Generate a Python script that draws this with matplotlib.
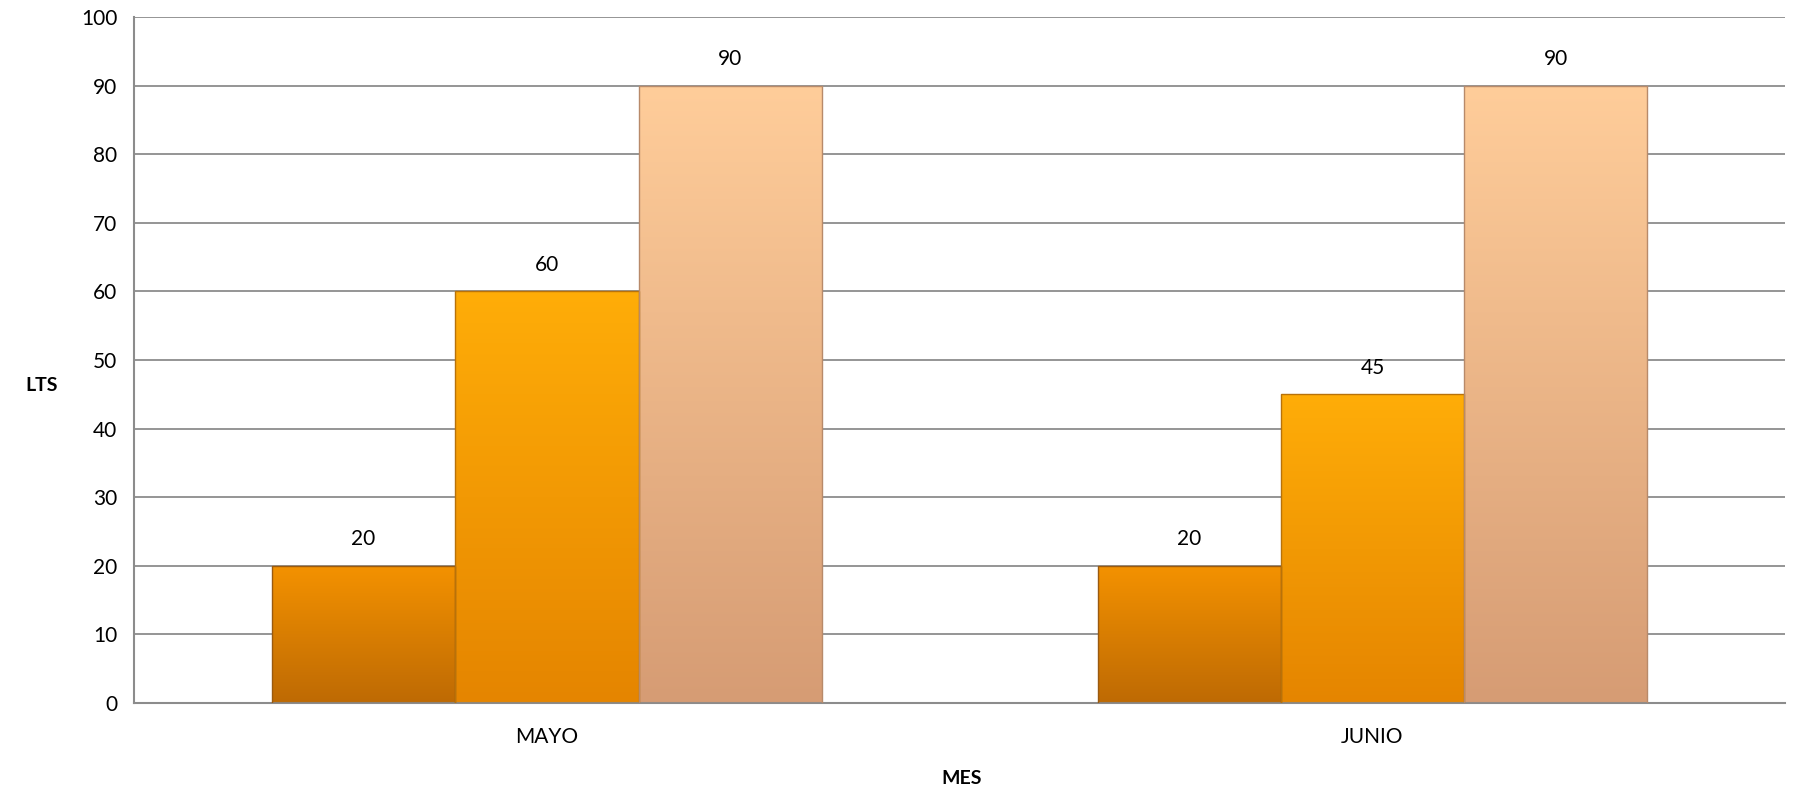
import matplotlib.pyplot as plt
import numpy as np
from matplotlib.colors import LinearSegmentedColormap

plt.rcParams['font.family'] = ['Lato', 'DejaVu Sans']

meses = ["MAYO", "JUNIO"]
serie_1 = [20, 20]
serie_2 = [60, 45]
serie_3 = [90, 90]
yticks = [0, 10, 20, 30, 40, 50, 60, 70, 80, 90, 100]

# top / bottom colours of each series gradient
grad_colors = [("#F49200", "#BE6A04"), ("#FFAD08", "#E58500"), ("#FFCD9A", "#D69C74")]
edge_colors = ["#9A5A10", "#B8720A", "#B88A6A"]


def main():
    fig = plt.figure(figsize=(18.07, 7.93), dpi=100)
    ax = fig.add_axes([0.0742, 0.1135, 0.9138, 0.8651])

    x = np.arange(len(meses))
    width = 0.222
    series = [serie_1, serie_2, serie_3]
    for i, vals in enumerate(series):
        offs = (i - 1) * width
        bars = ax.bar(x + offs, vals, width, color="none", edgecolor=edge_colors[i],
                      linewidth=1.0, zorder=3)
        cmap = LinearSegmentedColormap.from_list("g%d" % i, [grad_colors[i][1], grad_colors[i][0]])
        for b, v in zip(bars, vals):
            x0, w = b.get_x(), b.get_width()
            grad = np.linspace(0, 1, 256).reshape(-1, 1)
            im = ax.imshow(grad, cmap=cmap, origin="lower", aspect="auto",
                           extent=(x0, x0 + w, 0, v), zorder=2)
            im.set_clip_path(b)
            ax.annotate(str(v), (x0 + w / 2, v), xytext=(0, 19), textcoords="offset points",
                        ha="center", va="center", fontsize=15)

    ax.set_xlim(-0.5, len(meses) - 0.5)
    ax.set_ylim(0, 100)
    ax.set_yticks(yticks)
    ax.set_xticks(x)
    ax.set_xticklabels(meses)
    ax.tick_params(length=0, labelsize=15, pad=12)
    ax.tick_params(axis="x", pad=17)
    ax.grid(axis="y", color="#8C8C8C", linewidth=1.3, zorder=0)
    ax.set_axisbelow(True)
    for s in ["top", "right"]:
        ax.spines[s].set_visible(False)
    for s in ["left", "bottom"]:
        ax.spines[s].set_color("#8C8C8C")
        ax.spines[s].set_linewidth(1.5)

    fig.text(42 / 1807, 1 - 386 / 793, "LTS", ha="center", va="center",
             fontsize=14, fontweight="bold")
    fig.text(962 / 1807, 1 - 778 / 793, "MES", ha="center", va="center",
             fontsize=14, fontweight="bold")

    plt.savefig("out.png", dpi=100)
    plt.close()


if __name__ == "__main__":
    main()
